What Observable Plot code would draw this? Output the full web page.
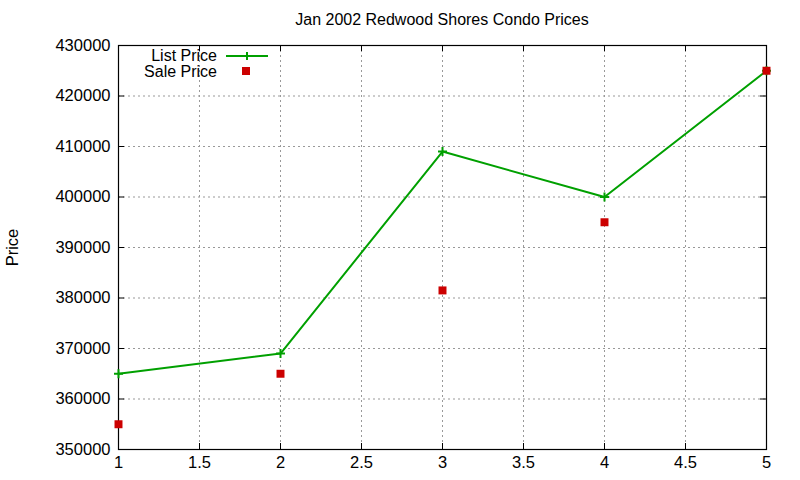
<!DOCTYPE html>
<html>
<head>
<meta charset="utf-8">
<script src="https://cdn.jsdelivr.net/npm/d3@7"></script>
<script src="https://cdn.jsdelivr.net/npm/@observablehq/plot@0.6"></script>
<style>
  body { margin: 0; background: #fff; font-family: "Liberation Sans", Arial, sans-serif; }
  #wrap { position: relative; width: 800px; height: 480px; }
  #title { position: absolute; left: 84px; right: 0; top: 11px; text-align: center; font-size: 16px; color: #000; }
  #chart { position: absolute; left: 0; top: 0; }
  #legend { position: absolute; left: 0; top: 0; pointer-events: none; }
</style>
</head>
<body>
<div id="wrap">
  <div id="chart"></div>
  <div id="title">Jan 2002 Redwood Shores Condo Prices</div>
  <svg id="legend" width="800" height="100"></svg>
</div>
<script>
const months = [1, 2, 3, 4, 5];
const listPrice = [365000, 369000, 409000, 400000, 425000];
const salePrice = [355000, 365000, 381500, 395000, 425000];
const xTicks = [1, 1.5, 2, 2.5, 3, 3.5, 4, 4.5, 5];
const yTicks = [350000, 360000, 370000, 380000, 390000, 400000, 410000, 420000, 430000];
const seriesNames = ["List Price", "Sale Price"];
const green = "#00a000";
const red = "#cc0000";

const listData = months.map((m, i) => ({x: m, y: listPrice[i]}));
const saleData = months.map((m, i) => ({x: m, y: salePrice[i]}));

const chart = Plot.plot({
  width: 800,
  height: 480,
  marginLeft: 118,
  marginRight: 34,
  marginTop: 45,
  marginBottom: 31,
  style: {fontFamily: "'Liberation Sans', Arial, sans-serif", fontSize: "16.5px", color: "#000", background: "#fff"},
  x: {domain: [1, 5]},
  y: {domain: [350000, 430000]},
  marks: [
    Plot.gridX(xTicks.slice(1, -1), {stroke: "#999", strokeOpacity: 1, strokeDasharray: "2,3"}),
    Plot.gridY(yTicks.slice(1, -1), {stroke: "#999", strokeOpacity: 1, strokeDasharray: "2,3"}),
    Plot.axisX(xTicks, {anchor: "bottom", tickSize: 0, tickPadding: 7, tickFormat: d => String(d), label: null, fontSize: 16.5}),
    Plot.axisY(yTicks, {anchor: "left", tickSize: 0, tickPadding: 8, tickFormat: d3.format("d"), label: "Price", labelAnchor: "center", labelOffset: 112, labelArrow: "none", fontSize: 16.5}),
    Plot.ruleX(xTicks, {x: d => d, y1: 350000, y2: 350000 + 80000 * 6 / 404, stroke: "#000"}),
    Plot.ruleX(xTicks, {x: d => d, y1: 430000, y2: 430000 - 80000 * 6 / 404, stroke: "#000"}),
    Plot.ruleY(yTicks, {y: d => d, x1: 1, x2: 1 + 4 * 6 / 648, stroke: "#000"}),
    Plot.ruleY(yTicks, {y: d => d, x1: 5, x2: 5 - 4 * 6 / 648, stroke: "#000"}),
    Plot.frame({stroke: "#000", strokeWidth: 1.2}),
    Plot.line(listData, {x: "x", y: "y", stroke: green, strokeWidth: 2}),
    Plot.dot(listData, {x: "x", y: "y", symbol: "plus", r: 3, stroke: green, strokeWidth: 2}),
    Plot.dot(saleData, {x: "x", y: "y", symbol: "square", r: 4.5, fill: red, stroke: "none"})
  ]
});
document.getElementById("chart").appendChild(chart);

// Legend (inside plot, top-left)
const lg = d3.select("#legend");
const font = "'Liberation Sans', Arial, sans-serif";
lg.append("text").attr("x", 217).attr("y", 61).attr("text-anchor", "end")
  .attr("font-family", font).attr("font-size", 16).text(seriesNames[0]);
lg.append("line").attr("x1", 226).attr("x2", 268).attr("y1", 56).attr("y2", 56)
  .attr("stroke", green).attr("stroke-width", 2);
lg.append("path").attr("d", "M243,56h8M247,52v8").attr("stroke", green).attr("stroke-width", 2);
lg.append("text").attr("x", 217).attr("y", 77).attr("text-anchor", "end")
  .attr("font-family", font).attr("font-size", 16).text(seriesNames[1]);
lg.append("rect").attr("x", 242).attr("y", 67).attr("width", 8).attr("height", 8).attr("fill", red);
</script>
</body>
</html>
